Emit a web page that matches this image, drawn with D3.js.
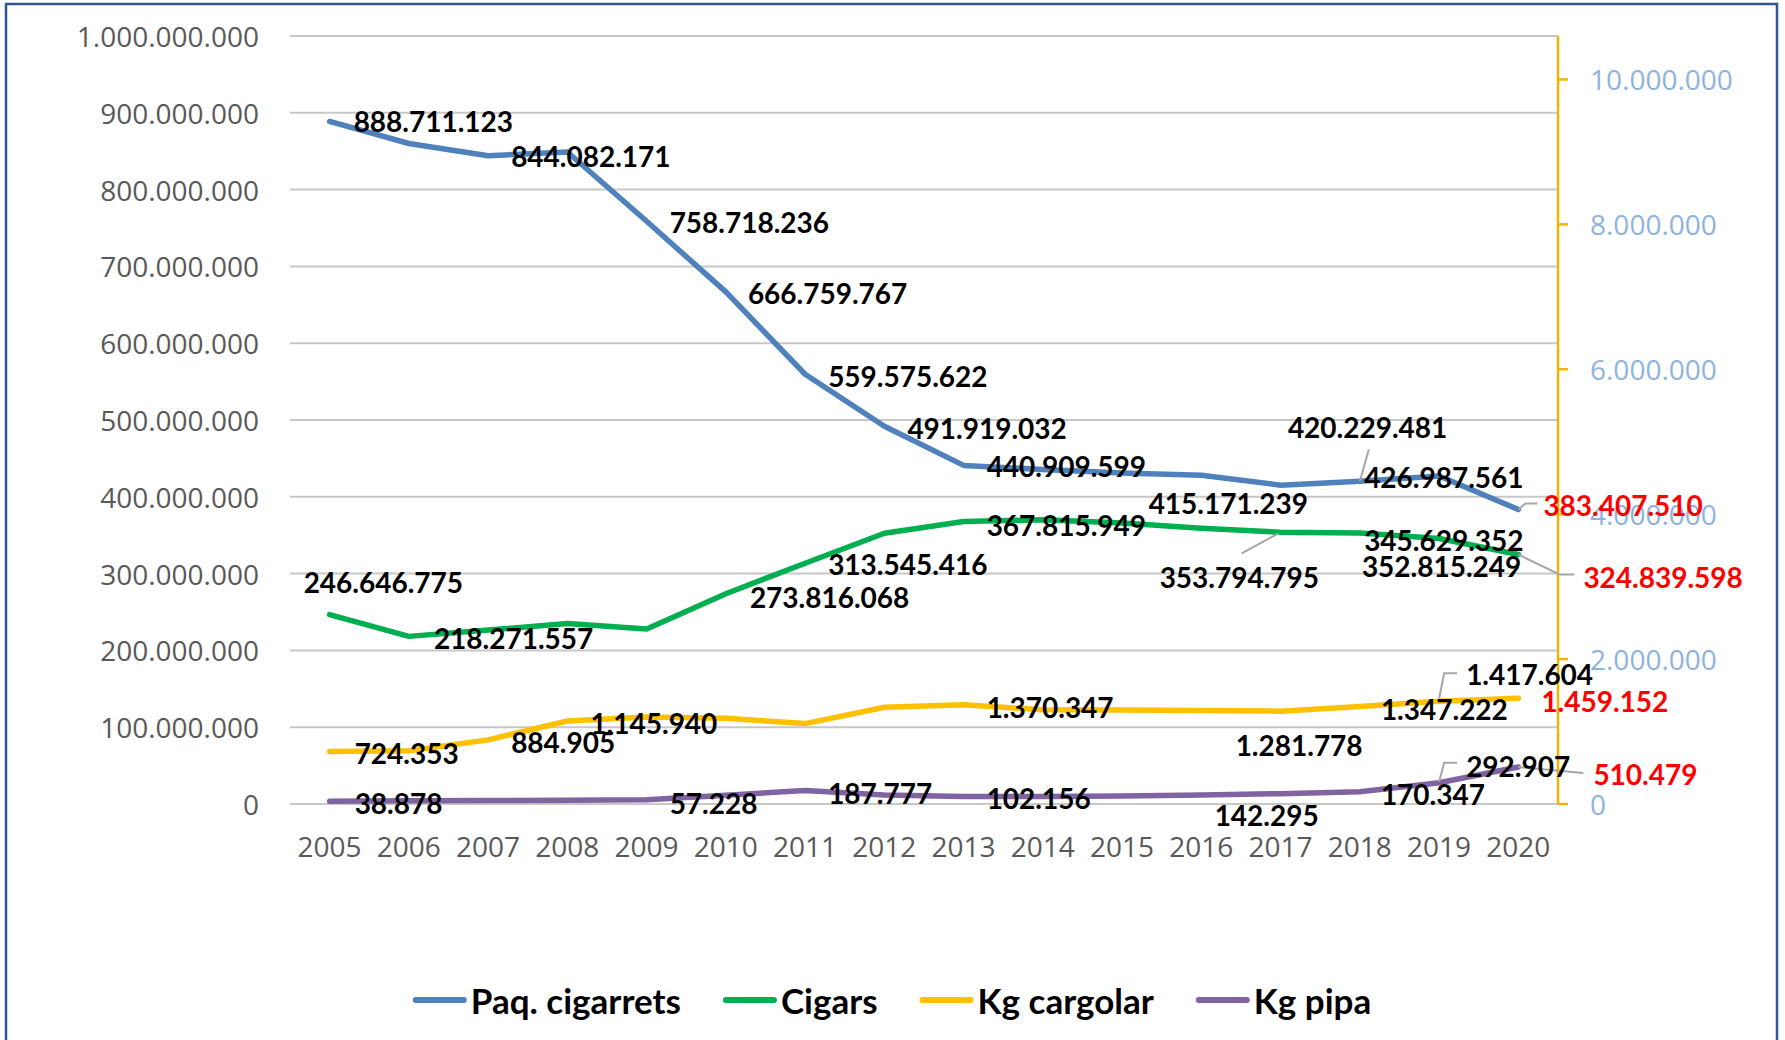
<!DOCTYPE html>
<html>
<head>
<meta charset="utf-8">
<script src="https://cdn.jsdelivr.net/npm/d3@7"></script>
<style>
  html, body { margin: 0; padding: 0; background: #fff; }
  svg { display: block; }
</style>
</head>
<body>
<div id="chart"></div>
<script>
// chart data
var years = [2005, 2006, 2007, 2008, 2009, 2010, 2011, 2012, 2013, 2014, 2015, 2016, 2017, 2018, 2019, 2020];
var cigarrets = [888711123, 860000000, 844082171, 849000000, 758718236, 666759767, 559575622, 491919032,
                 440909599, 435500000, 431000000, 428000000, 415171239, 420229481, 426987561, 383407510];
var cigars = [246646775, 218271557, 226500000, 235000000, 228000000, 273816068, 313545416, 352500000,
              367815949, 370000000, 366000000, 359000000, 353794795, 352815249, 345629352, 324839598];
var cargolar = [724353, 735000, 884905, 1145940, 1200000, 1183000, 1110000, 1335000,
                1370347, 1300000, 1297000, 1290000, 1281778, 1347222, 1417604, 1459152];
var pipa = [38878, 45000, 48000, 52000, 57228, 120000, 187777, 124000,
            102156, 103000, 112000, 124000, 142295, 170347, 292907, 510479];
var seriesNames = ['Paq. cigarrets', 'Cigars', 'Kg cargolar', 'Kg pipa'];
var leftTicks = [0, 100e6, 200e6, 300e6, 400e6, 500e6, 600e6, 700e6, 800e6, 900e6, 1000e6];
var rightTicks = [0, 2e6, 4e6, 6e6, 8e6, 10e6];

// label placement: [year index, dx to label left edge, dy to label middle]
var cigLabels = [[0, 24, 0], [2, 23, 0], [4, 23, 1], [5, 22, 1], [6, 23, 2], [7, 23, 2], [8, 23, 1],
                 [12, -132, 18], [13, -72, -54], [14, -75, 1], [15, 25, -5]];
var cigarLabels = [[0, -26, -33], [1, 25, 2], [5, 24, 3], [6, 23, 1], [8, 23, 3],
                   [12, -121, 45], [13, 2, 33], [14, -75, 1], [15, 65, 22]];
var cargLabels = [[0, 25, 1], [2, 23, 2], [3, 23, 2], [8, 23, 2], [12, -45, 34],
                  [13, 21, 3], [14, 27, -27], [15, 23, 3]];
var pipaLabels = [[0, 25, 2], [4, 23, 3], [6, 23, 3], [8, 23, 1], [12, -66, 21],
                  [13, 21, 2], [14, 27, -17], [15, 75, 7]];

// leader lines, points relative to the data point: [series, year index, path]
var leaders = [
  [0, 13, [[0, 0], [9, -32]]],
  [0, 15, [[0, 0], [7, -6], [19, -6]]],
  [1, 12, [[-2, 1], [-39, 21]]],
  [1, 15, [[0, 0], [41, 20], [56, 20]]],
  [2, 14, [[0, -3], [5, -28], [18, -28]]],
  [3, 14, [[0, -1], [5, -20], [18, -20]]],
  [3, 15, [[0, 0], [65, 6]]]
];

var W = 1785, H = 1040;
var plot = {x0: 290, x1: 1558, y0: 36, y1: 804};
var colors = ['#4F81BD', '#00B050', '#FFC000', '#8064A2'];
var red = '#FF0000';

var es = d3.formatLocale({decimal: ',', thousands: '.', grouping: [3], currency: ['', '']});
var fmt = es.format(',d');

var svg = d3.select('#chart').append('svg')
  .attr('width', W).attr('height', H);

svg.append('rect').attr('width', W).attr('height', H).attr('fill', '#fff');

// outer border of the chart area
svg.append('rect')
  .attr('x', 6).attr('y', 4).attr('width', 1771).attr('height', 1100)
  .attr('fill', 'none').attr('stroke', '#2F5597').attr('stroke-width', 2.5);

var x = d3.scaleBand().domain(years).range([plot.x0, plot.x1]);
var xc = function (i) { return x(years[i]) + x.bandwidth() / 2; };
var yL = d3.scaleLinear().domain([0, 1e9]).range([plot.y1, plot.y0]);
var yR = d3.scaleLinear().domain([0, 10.6e6]).range([plot.y1, plot.y0]);

// gridlines
svg.append('g').selectAll('line').data(leftTicks).enter().append('line')
  .attr('x1', plot.x0).attr('x2', plot.x1)
  .attr('y1', function (d) { return yL(d); }).attr('y2', function (d) { return yL(d); })
  .attr('stroke', '#C8C8C8').attr('stroke-width', 2);

// left axis labels
svg.append('g').selectAll('text').data(leftTicks).enter().append('text')
  .attr('x', 259).attr('y', function (d) { return yL(d); })
  .attr('text-anchor', 'end').attr('dominant-baseline', 'central')
  .style('font-family', 'Open Sans').style('font-size', '28px').attr('fill', '#595959')
  .text(function (d) { return fmt(d); });

// x axis labels
svg.append('g').selectAll('text').data(years).enter().append('text')
  .attr('x', function (d, i) { return xc(i); }).attr('y', 846)
  .attr('text-anchor', 'middle').attr('dominant-baseline', 'central')
  .style('font-family', 'Open Sans').style('font-size', '28px').attr('fill', '#595959')
  .text(function (d) { return d; });

// right axis
var rAxis = svg.append('g');
rAxis.append('line')
  .attr('x1', plot.x1).attr('x2', plot.x1).attr('y1', plot.y0).attr('y2', plot.y1)
  .attr('stroke', '#F2B400').attr('stroke-width', 2.5);
rAxis.selectAll('line.tk').data(rightTicks).enter().append('line').attr('class', 'tk')
  .attr('x1', plot.x1).attr('x2', plot.x1 + 10)
  .attr('y1', function (d) { return yR(d); }).attr('y2', function (d) { return yR(d); })
  .attr('stroke', '#F2B400').attr('stroke-width', 2.5);
rAxis.selectAll('text').data(rightTicks).enter().append('text')
  .attr('x', 1590).attr('y', function (d) { return yR(d); })
  .attr('dominant-baseline', 'central')
  .style('font-family', 'Open Sans').style('font-size', '28px').attr('fill', '#8DB3E2')
  .text(function (d) { return fmt(d); });

// lines
var series = [
  {vals: cigarrets, y: yL, labels: cigLabels},
  {vals: cigars, y: yL, labels: cigarLabels},
  {vals: cargolar, y: yR, labels: cargLabels},
  {vals: pipa, y: yR, labels: pipaLabels}
];

series.forEach(function (s, k) {
  var line = d3.line()
    .x(function (d, i) { return xc(i); })
    .y(function (d) { return s.y(d); });
  svg.append('path').datum(s.vals)
    .attr('d', line)
    .attr('fill', 'none').attr('stroke', colors[k]).attr('stroke-width', 5.5)
    .attr('stroke-linejoin', 'round').attr('stroke-linecap', 'round');
});

// leader lines
leaders.forEach(function (l) {
  var s = series[l[0]], i = l[1];
  var px = xc(i), py = s.y(s.vals[i]);
  svg.append('polyline')
    .attr('points', l[2].map(function (p) { return (px + p[0]) + ',' + (py + p[1]); }).join(' '))
    .attr('fill', 'none').attr('stroke', '#A6A6A6').attr('stroke-width', 2);
});

// data labels
series.forEach(function (s) {
  s.labels.forEach(function (lb) {
    var i = lb[0];
    svg.append('text')
      .attr('x', xc(i) + lb[1]).attr('y', s.y(s.vals[i]) + lb[2])
      .attr('dominant-baseline', 'central')
      .style('font-family', 'Lato').style('font-weight', 'bold').style('font-size', '28px')
      .attr('fill', i === years.length - 1 ? red : '#000')
      .text(fmt(s.vals[i]));
  });
});

// legend
var legend = svg.append('g');
var lx = 0;
seriesNames.forEach(function (n, k) {
  var g = legend.append('g').attr('transform', 'translate(' + lx + ',0)');
  g.append('line').attr('x1', 3).attr('x2', 51).attr('y1', 0).attr('y2', 0)
    .attr('stroke', colors[k]).attr('stroke-width', 6).attr('stroke-linecap', 'round');
  var t = g.append('text').attr('x', 58).attr('y', 0)
    .attr('dominant-baseline', 'central')
    .style('font-family', 'Lato').style('font-weight', 'bold').style('font-size', '35px')
    .attr('fill', '#000').text(n);
  lx += 58 + t.node().getComputedTextLength() + 42;
});
lx -= 42;
legend.attr('transform', 'translate(' + (892 - lx / 2) + ',1000)');
</script>
</body>
</html>
